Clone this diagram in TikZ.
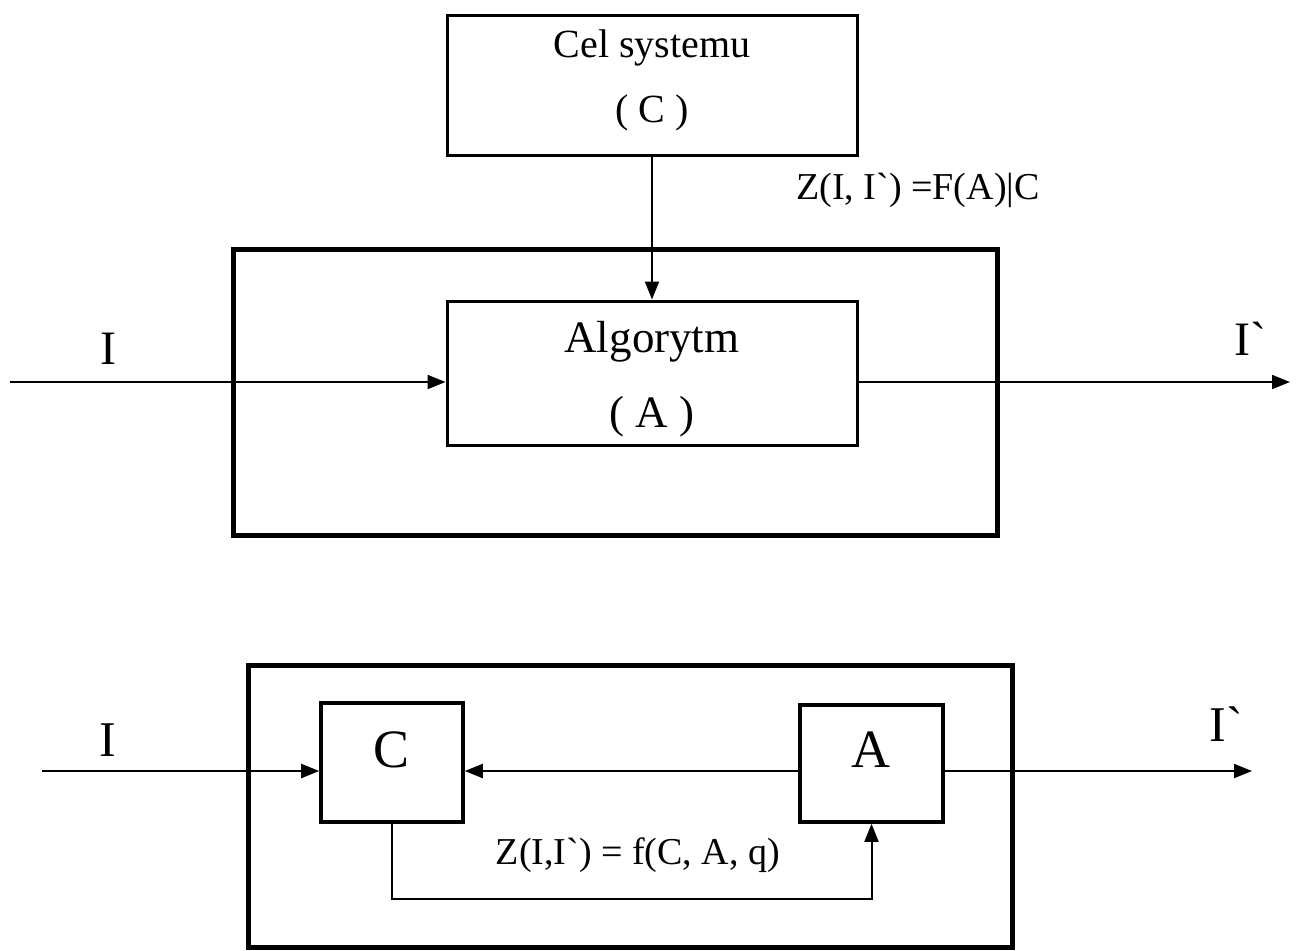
\documentclass[tikz,border=0pt]{standalone}
\usepackage{fontspec}
\setmainfont{Liberation Serif}[Ligatures=TeXOff]
\usetikzlibrary{arrows.meta,positioning}
\newcommand\Px{0.5pt}
\tikzset{
  blok/.style={
    shape = rectangle,
    draw,
    line width = 1.5pt,
    inner sep = 0pt,
    align = center
  },
  ramka/.style={
    shape = rectangle,
    draw,
    line width = 2.5pt,
    inner sep = 0pt
  },
  pil/.style={
    line width = 1pt,
    -{Triangle[length=9pt,width=7pt]}
  },
  etykieta/.style={
    inner sep = 0pt,
    align = center
  }
}

\begin{document}
\begin{tikzpicture}[x=\Px,y=-\Px]
\useasboundingbox (0,0) rectangle (1298,950);

% gorna czesc
       \node[ramka, minimum width=382pt, minimum height=143pt] (duzaA) at (615,392) {};
       \node[blok, minimum width=205pt, minimum height=70pt] (cel) at (652,85) {};
       \node[blok, minimum width=205pt, minimum height=72pt] (alg) at (652,373) {};
       \node[etykieta, font=\fontsize{20}{32.5}\selectfont] (celT) at (652,80) {Cel systemu\\( C )};
       \node[etykieta, font=\fontsize{22.5}{37.5}\selectfont] (algT) at (652,379) {Algorytm\\( A )};

       \coordinate (wejA) at (10,382);
       \coordinate (wyjA) at (1290,382);

       \draw[pil] (cel.south) -- (alg.north);
       \draw[pil] (wejA) -- (wejA -| alg.west);
       \draw[pil] (alg.east |- wejA) -- (wyjA);

       \node[etykieta, font=\fontsize{24}{28}\selectfont] (iA) at (108,349) {I};
       \node[etykieta, font=\fontsize{24}{28}\selectfont] (ipA) at (1250,339) {I`};
       \node[etykieta, font=\fontsize{19}{23}\selectfont] (zA) at (918,190) {Z(I, I`) =F(A)|C};

% dolna czesc
       \node[ramka, minimum width=382pt, minimum height=141pt] (duzaB) at (630,806) {};
       \node[blok, line width=1.8pt, minimum width=71pt, minimum height=59.5pt] (kC) at (392,762.5) {};
       \node[blok, line width=1.8pt, minimum width=71.5pt, minimum height=58.5pt] (kA) at (871.5,763.5) {};
       \node[etykieta, font=\fontsize{27}{32}\selectfont] (tC) at (392,750) {C};
       \node[etykieta, font=\fontsize{27}{32}\selectfont] (tA) at (871,750) {A};

       \coordinate (wejB) at (42,771);
       \coordinate (wyjB) at (1252,771);
       \coordinate (dol) at (630,899);

       \draw[pil] (wejB) -- (wejB -| kC.west);
       \draw[pil] (kA.west |- wejB) -- (wejB -| kC.east);
       \draw[pil] (kA.east |- wejB) -- (wyjB);
       \draw[pil] (kC.south) |- (dol -| kA.south) -- (kA.south);

       \node[etykieta, font=\fontsize{25}{30}\selectfont] (iB) at (108,740) {I};
       \node[etykieta, font=\fontsize{25}{30}\selectfont] (ipB) at (1226,724) {I`};
       \node[etykieta, font=\fontsize{19}{23}\selectfont] (zB) at (638,855) {Z(I,I`) = f(C, A, q)};

\end{tikzpicture}
\end{document}
